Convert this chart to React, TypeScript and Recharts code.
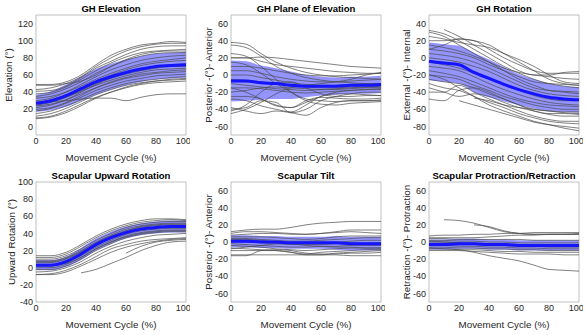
import { Area, ComposedChart, Line, ReferenceArea, XAxis, YAxis } from "recharts";

const cycle = [0, 10, 20, 30, 40, 50, 60, 70, 80, 90, 100];
const xTicks = [0, 20, 40, 60, 80, 100];

// GH Elevation
const ghElevMean = [27, 30, 36, 44, 52, 58, 63, 67, 70, 71, 72];
const ghElevSd = [10, 11, 13, 14, 15, 15, 15, 15, 15, 15, 15];
const ghElevSubjects = [
  [49, 49, 52, 60, 72, 83, 90, 95, 97, 99, 98],
  [43, 45, 50, 58, 70, 80, 88, 93, 96, 97, 97],
  [41, 42, 47, 57, 68, 76, 84, 90, 93, 94, 94],
  [38, 40, 46, 55, 65, 74, 81, 86, 88, 89, 90],
  [48, 48, 50, 53, 60, 70, 78, 84, 87, 88, 88],
  [35, 38, 44, 52, 62, 70, 77, 82, 85, 86, 86],
  [30, 33, 40, 49, 58, 66, 72, 77, 80, 82, 83],
  [33, 35, 40, 47, 55, 62, 68, 73, 76, 78, 80],
  [28, 31, 37, 45, 53, 60, 66, 71, 74, 76, 77],
  [25, 28, 34, 42, 50, 57, 63, 67, 70, 72, 73],
  [22, 25, 31, 40, 49, 56, 61, 65, 68, 70, 70],
  [27, 29, 34, 41, 48, 54, 59, 63, 66, 67, 68],
  [20, 22, 28, 36, 45, 52, 57, 61, 63, 65, 66],
  [24, 26, 31, 38, 45, 51, 56, 59, 62, 63, 64],
  [18, 21, 27, 34, 42, 48, 53, 56, 59, 60, 61],
  [15, 18, 24, 31, 39, 45, 50, 53, 55, 57, 58],
  [12, 15, 21, 29, 37, 43, 48, 51, 53, 54, 55],
  [10, 12, 18, 26, 34, 40, 45, 49, 51, 52, 53],
  [9, 11, 16, 24, 33, 40, 46, 50, 53, 55, 56],
  [28, 29, 30, 32, 33, 33, 30, 34, 37, 38, 38],
];

// GH Plane of Elevation
const ghPlaneMean = [-7, -7, -9, -10, -12, -13, -13, -13, -12, -12, -11];
const ghPlaneSd = [24, 23, 20, 18, 16, 13, 11, 10, 10, 10, 10];
const ghPlaneSubjects = [
  [38, 36, 25, 15, 8, 3, 0, -2, -3, -4, -5],
  [35, 32, 22, 10, 2, -3, -6, -8, -9, -10, -10],
  [20, 20, 21, 20, 18, 16, 14, 12, 10, 9, 8],
  [20, 20, 16, 12, 10, 8, 6, 4, 3, 2, 2],
  [10, 10, 8, 5, 2, 0, -1, -1, 0, 1, 2],
  [5, 5, 2, -2, -5, -7, -8, -8, -7, -6, -5],
  [0, 0, -3, -6, -9, -11, -12, -12, -11, -10, -10],
  [-5, -6, -8, -10, -13, -14, -15, -15, -14, -14, -13],
  [-10, -12, -14, -16, -17, -18, -17, -16, -15, -14, -14],
  [-15, -15, -16, -18, -20, -21, -20, -19, -18, -17, -16],
  [-20, -18, -15, -14, -15, -16, -17, -17, -16, -15, -15],
  [-38, -42, -45, -42, -44, -47, -38, -32, -30, -30, -29],
  [-45, -40, -32, -22, -15, -12, -10, -8, -5, 0, 3],
  [-40, -38, -30, -32, -44, -40, -30, -25, -22, -20, -20],
  [-28, -30, -36, -40, -43, -35, -25, -22, -22, -23, -24],
  [-42, -35, -20, -10, -8, -15, -22, -25, -25, -24, -24],
  [-25, -25, -28, -36, -38, -30, -26, -27, -28, -28, -27],
  [15, 12, 2, -10, -20, -28, -30, -31, -30, -30, -30],
  [25, 22, 10, -5, -20, -30, -34, -35, -33, -32, -31],
  [-15, -20, -28, -35, -38, -32, -25, -20, -18, -17, -17],
];

// GH Rotation
const ghRotMean = [-4, -6, -8, -17, -24, -31, -37, -42, -46, -48, -49];
const ghRotSd = [22, 22, 22, 23, 22, 20, 18, 17, 16, 15, 15];
const ghRotSubjects = [
  [32, 28, 20, 10, 0, -10, -18, -25, -30, -33, -35],
  [30, 25, 15, 5, -5, -15, -25, -32, -38, -40, -42],
  [null, 33, 25, 15, 5, -5, -15, -20, -20, -17, -16],
  [20, 20, 22, 20, 10, 0, -8, -15, -18, -18, -18],
  [15, 12, 8, 2, -5, -12, -17, -20, -22, -24, -25],
  [10, 8, 5, 0, -8, -15, -22, -28, -30, -31, -32],
  [5, 3, 0, -5, -12, -20, -28, -35, -38, -39, -40],
  [0, -2, -5, -10, -16, -24, -32, -38, -42, -44, -45],
  [-5, -8, -12, -18, -25, -32, -38, -44, -48, -50, -50],
  [-10, -12, -15, -22, -30, -37, -43, -48, -52, -54, -55],
  [-15, -18, -22, -28, -35, -42, -48, -52, -55, -56, -57],
  [-20, -22, -25, -32, -38, -45, -50, -55, -58, -60, -60],
  [-25, -28, -30, -35, -42, -48, -55, -60, -62, -63, -63],
  [-48, -50, -38, -35, -40, -48, -55, -62, -66, -68, -68],
  [-40, -40, -32, -40, -48, -55, -62, -68, -72, -74, -74],
  [-30, -35, -38, -45, -52, -58, -65, -70, -74, -76, -77],
  [null, null, -50, -55, -60, -65, -70, -75, -78, -80, -82],
  [-20, -25, -35, -45, -55, -62, -68, -74, -78, -82, -85],
  [null, null, null, -47, -50, -55, -58, -60, -62, -64, -65],
  [10, 15, 22, 20, 15, 5, -5, -15, -25, -30, -32],
  [25, 22, 18, 15, 12, 5, -2, -10, -20, -28, -30],
  [-35, -40, -45, -42, -45, -52, -58, -62, -65, -65, -66],
];

// Scapular Upward Rotation
const upRotMean = [3, 3, 7, 16, 27, 35, 41, 45, 47, 48, 48];
const upRotSd = [6, 6, 6, 7, 7, 7, 7, 7, 7, 7, 7];
const upRotSubjects = [
  [14, 14, 18, 27, 37, 45, 51, 55, 57, 57, 56],
  [12, 12, 16, 25, 35, 43, 49, 53, 55, 56, 55],
  [10, 10, 14, 22, 32, 40, 47, 51, 53, 54, 54],
  [8, 8, 12, 20, 30, 38, 45, 49, 51, 52, 52],
  [7, 7, 11, 19, 29, 37, 43, 48, 50, 51, 51],
  [6, 6, 10, 18, 28, 36, 43, 47, 49, 50, 50],
  [4, 4, 8, 16, 26, 34, 41, 45, 47, 48, 48],
  [3, 3, 5, 12, 22, 30, 36, 40, 42, 43, 43],
  [2, 2, 6, 14, 24, 32, 39, 43, 45, 46, 46],
  [0, 0, 4, 12, 22, 30, 37, 41, 43, 44, 44],
  [-2, -2, 2, 10, 20, 28, 35, 39, 41, 42, 42],
  [-5, -4, 0, 7, 17, 25, 31, 35, 38, 39, 40],
  [-8, -7, -3, 4, 13, 22, 27, 31, 33, 34, 35],
  [-8, -8, -5, 2, 10, 18, 24, 28, 31, 33, 34],
  [null, null, null, -6, -2, 5, 12, 20, 26, 30, 31],
  [null, null, null, null, null, null, 17, 25, 30, 32, 33],
];

// Scapular Tilt
const tiltMean = [1, 1, 0, 0, -1, -1, -1, -1, -2, -2, -2];
const tiltSd = [7, 7, 7, 7, 7, 7, 7, 8, 8, 8, 8];
const tiltSubjects = [
  [12, 14, 15, 15, 17, 20, 22, 23, 24, 24, 24],
  [10, 12, 12, 11, 10, 9, 10, 12, 14, 14, 14],
  [8, 9, 10, 10, 9, 9, 10, 11, 12, 11, 10],
  [6, 6, 6, 5, 4, 3, 4, 6, 7, 7, 7],
  [4, 4, 3, 2, 1, 1, 2, 3, 4, 5, 5],
  [3, 3, 2, 0, -2, -4, -5, -6, -6, -7, -7],
  [2, 2, 1, 0, -1, -2, -1, 0, 1, 2, 2],
  [0, 0, -1, -2, -3, -3, -3, -2, -1, -1, -1],
  [-2, -3, -4, -5, -6, -6, -5, -5, -4, -4, -4],
  [-8, -6, -4, -2, -1, 0, 0, -1, -2, -3, -3],
  [-4, -5, -6, -8, -9, -10, -9, -8, -7, -7, -7],
  [-7, -8, -9, -10, -12, -14, -12, -11, -10, -9, -9],
  [-10, -10, -10, -10, -12, -15, -15, -13, -12, -11, -10],
  [-16, -16, -10, -9, -10, -13, -14, -14, -13, -13, -12],
  [-15, -15, -15, -15, -15, -15, -15, -15, -16, -16, -16],
];

// Scapular Protraction/Retraction
const protMean = [-3, -3, -2, -2, -3, -3, -4, -4, -4, -4, -4];
const protSd = [6, 6, 6, 6, 6, 6, 6, 6, 6, 6, 6];
const protSubjects = [
  [null, 26, 25, 22, 17, 12, 10, 9, 9, 9, 10],
  [null, null, null, 20, 18, 13, 10, 9, 9, 9, 9],
  [7, 8, 8, 9, 9, 10, 10, 11, 11, 11, 11],
  [5, 5, 5, 5, 6, 7, 8, 8, 9, 9, 9],
  [4, 4, 3, 3, 3, 3, 3, 2, 2, 2, 2],
  [2, 2, 1, 1, 0, 0, -1, -1, -1, -1, -1],
  [1, 0, -1, -2, -3, -4, -4, -5, -5, -4, -3],
  [0, 0, -1, -1, -2, -2, -3, -3, -3, -3, -3],
  [-2, -2, -3, -3, -4, -4, -5, -5, -6, -6, -6],
  [-4, -4, -5, -5, -6, -6, -7, -7, -8, -8, -8],
  [-6, -6, -7, -7, -8, -8, -9, -9, -10, -10, -10],
  [-8, -8, -9, -9, -10, -11, -11, -12, -12, -12, -12],
  [-10, -10, -10, -11, -12, -13, -14, -14, -14, -15, -15],
  [-7, -8, -9, -12, -16, -19, -22, -27, -32, -33, -34],
];

type PanelProps = {
  left: number;
  top: number;
  title: string;
  yLabel: string;
  domain: [number, number];
  yTicks: number[];
  mean: number[];
  sd: number[];
  subjects: (number | null)[][];
  labelDx: number;
};

function Panel({ left, top, title, yLabel, domain, yTicks, mean, sd, subjects, labelDx }: PanelProps) {
  const rows = cycle.map((x, i) => {
    const row: Record<string, unknown> = {
      x,
      mean: mean[i],
      band: [mean[i] - sd[i], mean[i] + sd[i]],
    };
    subjects.forEach((s, j) => {
      row["s" + j] = s[i];
    });
    return row;
  });

  const tick = { fontSize: 9, fill: "#262626" };

  return (
    <>
      <div
        style={{
          position: "absolute",
          left: left + 36,
          top: top + 3,
          width: 150,
          textAlign: "center",
          fontWeight: "bold",
          fontSize: 9.5,
          lineHeight: "12px",
          color: "#000",
        }}
      >
        {title}
      </div>
      <div style={{ position: "absolute", left, top }}>
        <ComposedChart
          width={190}
          height={170}
          data={rows}
          margin={{ top: 15, right: 4, bottom: 0, left: 0 }}
        >
          <XAxis
            dataKey="x"
            type="number"
            domain={[0, 100]}
            ticks={xTicks}
            tick={tick}
            tickLine={false}
            axisLine={false}
            tickSize={0}
            tickMargin={3}
            height={35}
            label={{
              value: "Movement Cycle (%)",
              position: "insideBottom",
              offset: 9,
              style: { fontSize: 9.8, fill: "#262626" },
            }}
          />
          <YAxis
            type="number"
            domain={domain}
            ticks={yTicks}
            allowDataOverflow
            tick={tick}
            tickLine={false}
            axisLine={false}
            tickSize={0}
            tickMargin={3}
            width={36}
            label={{
              value: yLabel,
              angle: -90,
              position: "center",
              dx: labelDx,
              style: { fontSize: 9.8, fill: "#262626" },
            }}
          />
          {subjects.map((_, j) => (
            <Line
              key={j}
              dataKey={"s" + j}
              type="monotone"
              stroke="#4a4a4a"
              strokeWidth={0.7}
              dot={false}
              activeDot={false}
              isAnimationActive={false}
            />
          ))}
          <Area
            dataKey="band"
            type="monotone"
            fill="#0000ff"
            fillOpacity={0.42}
            stroke="none"
            isAnimationActive={false}
          />
          <Line
            dataKey="mean"
            type="monotone"
            stroke="#1414ff"
            strokeWidth={3}
            dot={false}
            activeDot={false}
            isAnimationActive={false}
          />
          <ReferenceArea
            x1={0}
            x2={100}
            y1={domain[0]}
            y2={domain[1]}
            fill="none"
            stroke="#b0b0b0"
            strokeWidth={0.8}
            ifOverflow="visible"
          />
        </ComposedChart>
      </div>
    </>
  );
}

const symTicks = [-60, -40, -20, 0, 20, 40, 60];

export default function App() {
  return (
    <div
      style={{
        position: "absolute",
        left: 0,
        top: 0,
        width: 586,
        height: 335,
        background: "#fff",
        fontFamily: "'Liberation Sans', Arial, sans-serif",
      }}
    >
      <Panel
        left={0}
        top={0}
        title="GH Elevation"
        yLabel="Elevation (°)"
        domain={[-10, 130]}
        yTicks={[0, 20, 40, 60, 80, 100, 120]}
        mean={ghElevMean}
        sd={ghElevSd}
        subjects={ghElevSubjects}
        labelDx={-9}
      />
      <Panel
        left={195}
        top={0}
        title="GH Plane of Elevation"
        yLabel="Posterior -(°)- Anterior"
        domain={[-70, 70]}
        yTicks={symTicks}
        mean={ghPlaneMean}
        sd={ghPlaneSd}
        subjects={ghPlaneSubjects}
        labelDx={-4}
      />
      <Panel
        left={393}
        top={0}
        title="GH Rotation"
        yLabel="External -(°)- Internal"
        domain={[-90, 50]}
        yTicks={[-80, -60, -40, -20, 0, 20, 40]}
        mean={ghRotMean}
        sd={ghRotSd}
        subjects={ghRotSubjects}
        labelDx={-4}
      />
      <Panel
        left={0}
        top={167}
        title="Scapular Upward Rotation"
        yLabel="Upward Rotation (°)"
        domain={[-40, 100]}
        yTicks={[-40, -20, 0, 20, 40, 60, 80, 100]}
        mean={upRotMean}
        sd={upRotSd}
        subjects={upRotSubjects}
        labelDx={-6}
      />
      <Panel
        left={195}
        top={167}
        title="Scapular Tilt"
        yLabel="Posterior -(°)- Anterior"
        domain={[-70, 70]}
        yTicks={symTicks}
        mean={tiltMean}
        sd={tiltSd}
        subjects={tiltSubjects}
        labelDx={-4}
      />
      <Panel
        left={393}
        top={167}
        title="Scapular Protraction/Retraction"
        yLabel="Retraction -(°)- Protraction"
        domain={[-70, 70]}
        yTicks={symTicks}
        mean={protMean}
        sd={protSd}
        subjects={protSubjects}
        labelDx={-4}
      />
    </div>
  );
}
